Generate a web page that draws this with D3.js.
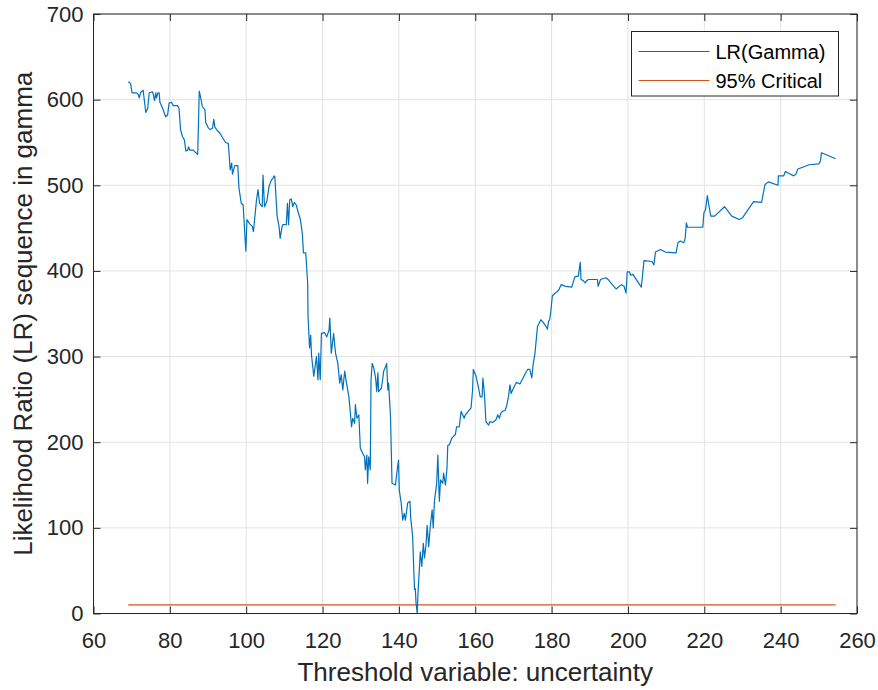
<!DOCTYPE html>
<html>
<head>
<meta charset="utf-8">
<script src="https://cdn.jsdelivr.net/npm/d3@7"></script>
<style>
    body { margin: 0; background: #fff; }
    svg { font-family: 'Liberation Sans', Arial, sans-serif; }
</style>
</head>
<body>
<svg class="chart" width="878" height="690"></svg>
<script>
// threshold values (x) and LR statistic (y)
const thresholdX = [
    69.1, 69.7, 70.1, 71.3, 71.7, 72.0, 72.3, 73.0, 73.7, 74.2, 74.6, 75.5, 76.0, 76.3, 76.5, 76.9, 77.2, 77.4, 78.1, 78.9,
    79.4, 79.8, 80.4, 80.9, 82.0, 82.4, 82.8, 83.3, 83.8, 84.2, 84.7, 84.9, 85.2, 86.1, 87.3, 87.7, 88.0, 88.5, 89.2, 89.4,
    90.1, 90.6, 91.2, 91.5, 91.8, 92.4, 93.1, 93.9, 94.6, 95.3, 95.5, 95.8, 96.2, 96.4, 97.0, 97.8, 98.1, 98.7, 99.2, 99.9,
    100.2, 100.9, 101.6, 101.9, 102.7, 103.1, 103.5, 104.2, 104.4, 104.8, 105.4, 106.0, 106.6, 107.0, 107.3, 107.5, 108.1, 108.6, 108.9, 109.4,
    109.6, 110.5, 110.8, 111.1, 111.4, 111.8, 112.2, 112.6, 113.1, 113.7, 114.2, 114.7, 115.0, 115.6, 116.1, 116.2, 116.6, 116.9, 117.1, 117.7,
    118.4, 118.8, 119.0, 119.4, 119.7, 120.5, 121.1, 121.7, 121.9, 122.3, 122.9, 123.4, 124.0, 124.5, 124.9, 125.3, 125.8, 126.2, 126.9, 127.2,
    127.6, 127.9, 128.4, 128.6, 129.0, 129.5, 129.9, 130.5, 131.0, 131.2, 131.6, 131.8, 132.1, 132.5, 132.7, 133.0, 133.4, 133.9, 134.2, 134.5,
    134.7, 135.4, 135.8, 136.0, 136.5, 136.8, 137.1, 137.3, 137.8, 138.2, 139.1, 139.4, 139.9, 140.1, 140.6, 141.0, 141.4, 141.7, 142.3, 142.9,
    143.1, 143.6, 143.9, 144.1, 144.3, 144.5, 144.8, 145.0, 145.4, 145.6, 146.0, 146.4, 146.7, 147.1, 147.4, 147.8, 148.2, 148.7, 149.0, 149.3,
    149.9, 150.2, 150.6, 150.9, 151.5, 151.7, 152.2, 152.6, 152.8, 153.2, 153.9, 154.8, 155.1, 155.8, 156.3, 156.7, 157.1, 157.4, 158.0, 158.9,
    159.3, 159.5, 160.2, 160.8, 161.3, 161.8, 162.0, 162.4, 162.8, 163.5, 163.8, 164.5, 165.4, 165.9, 166.3, 166.7, 167.1, 167.8, 168.2, 168.7,
    169.1, 169.4, 170.0, 170.8, 171.7, 172.4, 173.1, 173.7, 174.3, 174.8, 175.2, 175.6, 175.9, 176.3, 177.2, 177.8, 178.7, 178.9, 179.2, 179.5,
    179.8, 180.2, 180.9, 181.5, 181.9, 182.5, 183.7, 185.3, 185.6, 186.1, 187.0, 187.5, 187.7, 188.2, 188.8, 189.1, 189.6, 192.0, 192.2, 192.8,
    194.2, 194.8, 195.9, 196.9, 198.3, 199.0, 199.5, 199.8, 200.4, 200.7, 201.3, 203.5, 204.2, 206.3, 206.8, 207.2, 208.5, 209.8, 212.6, 213.1,
    213.7, 214.6, 215.0, 215.3, 215.6, 219.6, 219.9, 220.3, 220.8, 221.1, 221.7, 222.7, 225.3, 227.2, 229.1, 230.0, 232.9, 235.0, 235.9, 236.8,
    239.3, 239.4, 240.8, 241.2, 242.1, 243.4, 244.0, 244.5, 245.8, 247.4, 250.0, 250.4, 250.7, 254.4
];
const lrGamma = [
    621, 619, 608, 608, 606, 602, 608, 611, 585, 590, 608, 609, 599, 608, 602, 608, 608, 597, 590, 580,
    582, 596, 597, 593, 593, 590, 565, 557, 553, 540, 541, 545, 541, 541, 536, 610, 604, 592, 588, 573,
    567, 565, 567, 577, 568, 564, 561, 555, 550, 549, 538, 518, 526, 513, 523, 523, 497, 479, 477, 423,
    460, 455, 452, 446, 483, 495, 479, 475, 512, 475, 481, 499, 506, 508, 511, 510, 464, 452, 438, 452,
    454, 454, 479, 454, 483, 484, 475, 480, 477, 467, 460, 444, 421, 421, 386, 347, 310, 325, 302, 277,
    300, 273, 304, 273, 327, 328, 323, 331, 345, 304, 327, 304, 292, 269, 279, 261, 283, 271, 253, 238,
    218, 228, 222, 244, 228, 232, 193, 187, 183, 168, 185, 152, 183, 168, 273, 292, 287, 275, 259, 281,
    259, 263, 275, 283, 288, 292, 261, 269, 230, 152, 150, 162, 179, 144, 129, 109, 117, 109, 129, 131,
    111, 90, 51, 28, 29, 12, 0, 24, 55, 72, 55, 82, 65, 80, 103, 78, 101, 121, 100, 131,
    152, 185, 131, 156, 152, 164, 150, 170, 196, 197, 205, 209, 218, 218, 236, 232, 228, 232, 235, 240,
    261, 285, 277, 265, 253, 253, 275, 257, 224, 220, 224, 223, 226, 232, 228, 234, 236, 237, 242, 253,
    267, 257, 263, 270, 268, 274, 280, 285, 285, 275, 292, 302, 316, 335, 343, 340, 334, 332, 341, 343,
    353, 371, 374, 376, 378, 384, 382, 381, 386, 393, 394, 410, 390, 389, 386, 388, 390, 390, 382, 390,
    392, 390, 384, 379, 384, 382, 374, 399, 399, 395, 396, 381, 412, 411, 407, 422, 425, 422, 421, 433,
    435, 433, 438, 456, 451, 451, 468, 471, 488, 479, 464, 464, 475, 464, 460, 462, 481, 480, 501, 504,
    500, 511, 511, 516, 514, 511, 513, 519, 521, 524, 525, 528, 538, 531
];
const criticalValue = 10;
const xTicks = [60, 80, 100, 120, 140, 160, 180, 200, 220, 240, 260];
const yTicks = [0, 100, 200, 300, 400, 500, 600, 700];
const seriesNames = ['LR(Gamma)', '95% Critical'];
const seriesColors = ['#0072BD', '#D95319'];

const svg = d3.select('.chart');
const width = +svg.attr('width');
const height = +svg.attr('height');

const margin = { top: 14, right: 21, bottom: 76.5, left: 93.5 };
const innerWidth = width - margin.left - margin.right;
const innerHeight = height - margin.top - margin.bottom;

const axisColor = '#262626';

const xScale = d3.scaleLinear()
    .domain([60, 260])
    .range([0, innerWidth]);

const yScale = d3.scaleLinear()
    .domain([0, 700])
    .range([innerHeight, 0]);

const g = svg.append('g')
    .attr('transform', `translate(${margin.left}, ${margin.top})`);

// grid
g.append('g')
    .selectAll('line')
    .data(xTicks)
    .join('line')
    .attr('x1', d => xScale(d)).attr('x2', d => xScale(d))
    .attr('y1', 0).attr('y2', innerHeight)
    .attr('stroke', '#e3e3e3').attr('stroke-width', 1);

g.append('g')
    .selectAll('line')
    .data(yTicks)
    .join('line')
    .attr('y1', d => yScale(d)).attr('y2', d => yScale(d))
    .attr('x1', 0).attr('x2', innerWidth)
    .attr('stroke', '#e3e3e3').attr('stroke-width', 1);

// lines
const data = thresholdX.map((x, i) => ({ x: x, y: lrGamma[i] }));
const critical = [
    { x: d3.min(thresholdX), y: criticalValue },
    { x: d3.max(thresholdX), y: criticalValue }
];

const line = d3.line()
    .x(d => xScale(d.x))
    .y(d => yScale(d.y));

g.append('path')
    .datum(critical)
    .attr('fill', 'none')
    .attr('stroke', seriesColors[1])
    .attr('stroke-width', 1.2)
    .attr('d', line);

g.append('path')
    .datum(data)
    .attr('fill', 'none')
    .attr('stroke', seriesColors[0])
    .attr('stroke-width', 1.2)
    .attr('stroke-linejoin', 'round')
    .attr('d', line);

// axes (matlab style, ticks inward on all four sides)
const tickLen = 7;

g.append('g')
    .attr('transform', `translate(0, ${innerHeight})`)
    .call(d3.axisBottom(xScale).tickValues(xTicks).tickSizeInner(-tickLen).tickSizeOuter(0).tickPadding(19))
    .call(ax => ax.select('.domain').remove());

g.append('g')
    .call(d3.axisTop(xScale).tickValues(xTicks).tickSizeInner(-tickLen).tickSizeOuter(0))
    .call(ax => ax.select('.domain').remove())
    .call(ax => ax.selectAll('text').remove());

g.append('g')
    .call(d3.axisLeft(yScale).tickValues(yTicks).tickSizeInner(-tickLen).tickSizeOuter(0).tickPadding(10))
    .call(ax => ax.select('.domain').remove());

g.append('g')
    .attr('transform', `translate(${innerWidth}, 0)`)
    .call(d3.axisRight(yScale).tickValues(yTicks).tickSizeInner(-tickLen).tickSizeOuter(0))
    .call(ax => ax.select('.domain').remove())
    .call(ax => ax.selectAll('text').remove());

g.selectAll('.tick line').attr('stroke', axisColor);
g.selectAll('.tick text')
    .attr('fill', axisColor)
    .style('font-size', '22px')
    .style('font-family', "'Liberation Sans', Arial, sans-serif");

g.append('rect')
    .attr('width', innerWidth)
    .attr('height', innerHeight)
    .attr('fill', 'none')
    .attr('stroke', axisColor)
    .attr('stroke-width', 1);

// axis labels
svg.append('text')
    .attr('x', margin.left + innerWidth / 2)
    .attr('y', 681)
    .attr('text-anchor', 'middle')
    .attr('fill', axisColor)
    .style('font-size', '26px')
    .text('Threshold variable: uncertainty');

svg.append('text')
    .attr('transform', `translate(32, ${margin.top + innerHeight / 2}) rotate(-90)`)
    .attr('text-anchor', 'middle')
    .attr('fill', axisColor)
    .style('font-size', '26px')
    .text('Likelihood Ratio (LR) sequence in gamma');

// legend
const legend = svg.append('g')
    .attr('transform', 'translate(631.5, 31.5)');

legend.append('rect')
    .attr('width', 207)
    .attr('height', 64.5)
    .attr('fill', '#fff')
    .attr('stroke', axisColor)
    .attr('stroke-width', 1);

const item = legend.selectAll('.item')
    .data(seriesNames)
    .join('g')
    .attr('class', 'item')
    .attr('transform', (d, i) => `translate(0, ${20 + i * 29})`);

item.append('line')
    .attr('x1', 7).attr('x2', 78)
    .attr('stroke', (d, i) => seriesColors[i])
    .attr('stroke-width', 1.2);

item.append('text')
    .attr('x', 84)
    .attr('dy', '0.35em')
    .attr('fill', '#000')
    .style('font-size', '20px')
    .text(d => d);
</script>
</body>
</html>
